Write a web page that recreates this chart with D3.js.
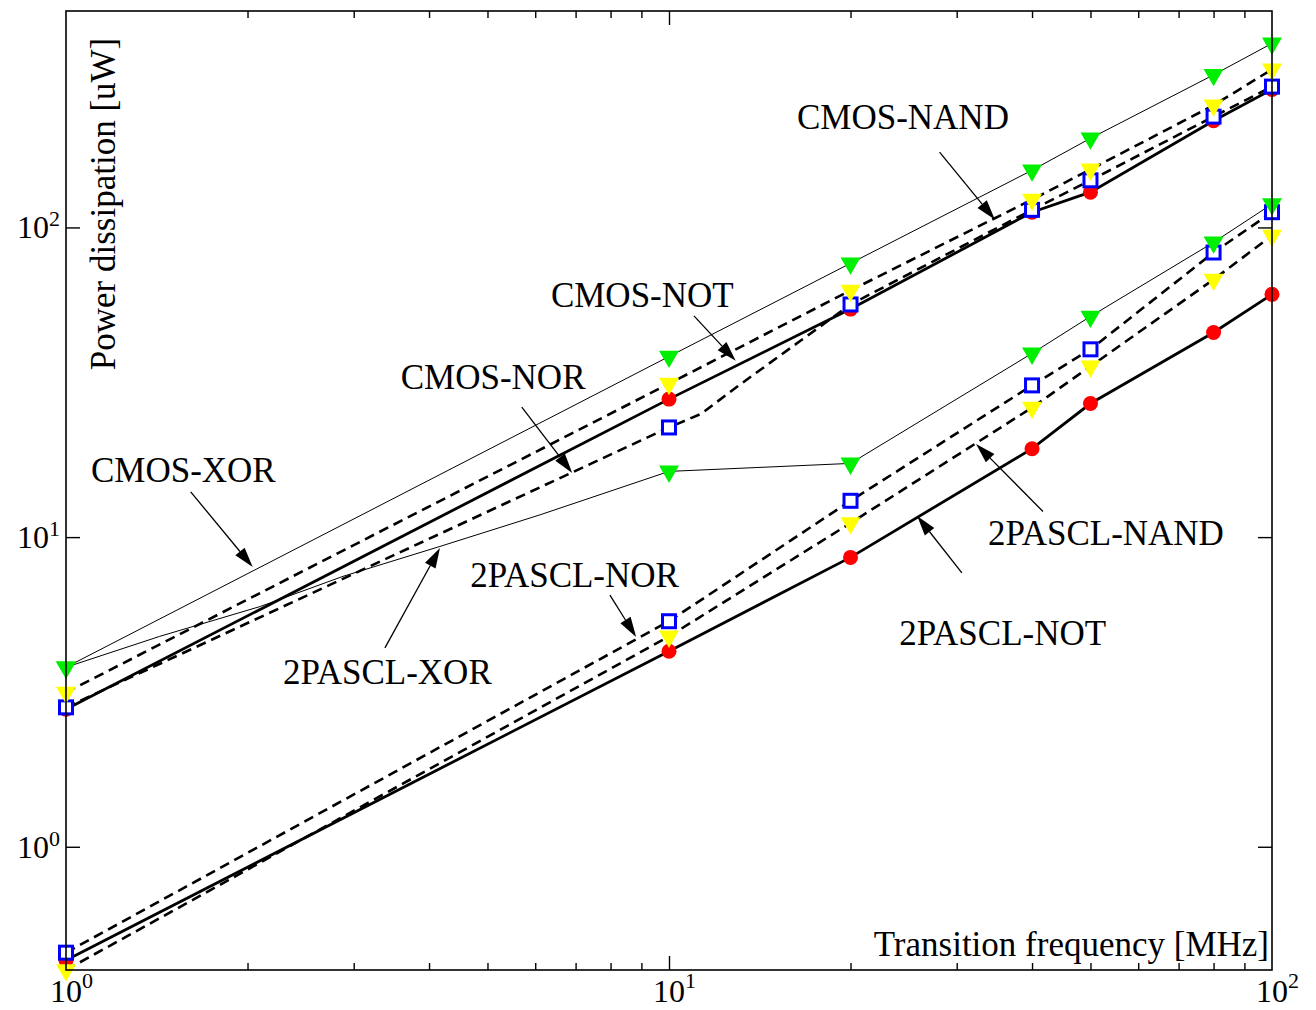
<!DOCTYPE html>
<html>
<head>
<meta charset="utf-8">
<script src="https://cdn.jsdelivr.net/npm/d3@7"></script>
<style>
body { margin: 0; background: #fff; }
text { font-family: "Liberation Serif", "Times New Roman", serif; fill: #000; }
</style>
</head>
<body>
<script>
// transition frequencies where the markers sit [MHz]
var freqs = [1, 10, 20, 40, 50, 80, 100];

// power dissipation [uW]
var cmosNot   = [2.78, 27.9, 54.5, 112, 130, 221, 279];
var cmosNand  = [2.82, 22.6, 56.4, 114, 142, 228, 285];
var cmosNor   = [3.15, 31.3, 62.6, 123, 154, 248, 324];
var cmosXor   = [3.80, 38.3, 76.6, 153, 194, 311, 393];
var pasclNot  = [0.43, 4.28, 8.6, 19.3, 27.0, 45.8, 60.8];
var pasclNand = [0.455, 5.35, 13.1, 30.9, 40.4, 83.0, 112];
var pasclNor  = [0.40, 4.78, 11.1, 26.2, 35.6, 67.9, 94.2];
var pasclXor  = [3.80, 16.3, 17.3, 39.2, 51.6, 89.5, 119];

// extra traced points where a curve bends between two markers (no marker drawn)
var pasclXorBendF = [1.43, 2.10, 2.88, 4.17, 6.11];
var pasclXorBendP = [4.78, 5.97, 7.47, 9.33, 11.8];
var cmosNandBendF = [11.3, 13.0];
var cmosNandBendP = [25.0, 30.7];

// axis ticks
var xDecades = [1, 10, 100];
var xMinor = [2, 3, 4, 5, 6, 7, 8, 9, 20, 30, 40, 50, 60, 70, 80, 90];
var yDecades = [1, 10, 100];

// annotations, in data units (frequency, power)
var labelText = ["CMOS-NAND", "CMOS-NOT", "CMOS-NOR", "CMOS-XOR",
                 "2PASCL-XOR", "2PASCL-NOR", "2PASCL-NAND", "2PASCL-NOT"];
var labelF = [16.3, 6.37, 3.59, 1.10, 2.29, 4.68, 33.8, 24.1];
var labelP = [208, 55.4, 30.1, 15.1, 3.36, 6.90, 9.43, 4.48];
var arrowFromF = [28.1, 11.0, 5.70, 1.61, 3.38, 7.98, 41.7, 30.6];
var arrowFromP = [175, 51.8, 26.3, 14.0, 4.39, 6.50, 12.1, 7.66];
var arrowToF   = [34.7, 12.9, 6.91, 2.04, 4.17, 8.82, 32.3, 25.8];
var arrowToP   = [106, 37.1, 16.1, 8.01, 9.22, 4.76, 20.0, 11.7];

function init(){

    var w = 1316;
    var h = 1010;
    var left = 66, right = 1272, top = 11, bottom = 970;

    var svg = d3.select("body")
            .append("svg")
            .attr("width", w)
            .attr("height", h);

    var x = d3.scaleLog().domain([1, 100]).range([left, right]);
    var y = d3.scaleLog().domain([0.4, 500]).range([bottom, top]);

    var series = [
        {vals: cmosNot,   kind: "not"},
        {vals: cmosNand,  kind: "nand", bendF: cmosNandBendF, bendP: cmosNandBendP},
        {vals: cmosNor,   kind: "nor"},
        {vals: cmosXor,   kind: "xor"},
        {vals: pasclNot,  kind: "not"},
        {vals: pasclNand, kind: "nand"},
        {vals: pasclNor,  kind: "nor"},
        {vals: pasclXor,  kind: "xor", bendF: pasclXorBendF, bendP: pasclXorBendP}
    ];

    var lineWidth = {not: 2.8, nand: 2.6, nor: 2.6, xor: 1};
    var dash = {not: null, nand: "10,6", nor: "10,6", xor: null};

    var line = d3.line()
        .x(function(d){ return x(d.f); })
        .y(function(d){ return y(d.p); });

    // lines first
    series.forEach(function(s){
        var pts = freqs.map(function(f, i){ return {f: f, p: s.vals[i]}; });
        if (s.bendF) {
            s.bendF.forEach(function(f, i){ pts.push({f: f, p: s.bendP[i]}); });
        }
        pts.sort(function(a, b){ return a.f - b.f; });
        svg.append("path")
            .attr("d", line(pts))
            .attr("fill", "none")
            .attr("stroke", "#000")
            .attr("stroke-width", lineWidth[s.kind])
            .attr("stroke-dasharray", dash[s.kind]);
    });

    // markers, drawn red -> blue -> yellow -> green so they stack like the figure
    var order = ["not", "nand", "nor", "xor"];
    var tri = "M-10,-5.8L10,-5.8L0,11.5Z"; // pointing down, centred on its centroid
    order.forEach(function(kind){
        series.filter(function(s){ return s.kind === kind; }).forEach(function(s){
            var g = svg.append("g");
            var pts = freqs.map(function(f, i){ return {f: f, p: s.vals[i]}; });
            if (kind === "not") {
                g.selectAll("circle").data(pts).enter().append("circle")
                    .attr("cx", function(d){ return x(d.f); })
                    .attr("cy", function(d){ return y(d.p); })
                    .attr("r", 7.5)
                    .attr("fill", "#ff0000");
            } else if (kind === "nand") {
                g.selectAll("rect").data(pts).enter().append("rect")
                    .attr("x", function(d){ return x(d.f) - 6.5; })
                    .attr("y", function(d){ return y(d.p) - 6.5; })
                    .attr("width", 13)
                    .attr("height", 13)
                    .attr("fill", "#fff")
                    .attr("stroke", "#0000ff")
                    .attr("stroke-width", 3);
            } else {
                g.selectAll("path").data(pts).enter().append("path")
                    .attr("d", tri)
                    .attr("transform", function(d){ return "translate(" + x(d.f) + "," + y(d.p) + ")"; })
                    .attr("fill", kind === "nor" ? "#ffff00" : "#00ee00");
            }
        });
    });

    // ticks, all pointing inwards
    function noDomain(g){ g.select(".domain").remove(); g.selectAll("text").remove(); }
    svg.append("g").attr("transform", "translate(0," + bottom + ")")
        .call(d3.axisBottom(x).tickValues(xMinor).tickSize(-7)).call(noDomain);
    svg.append("g").attr("transform", "translate(0," + bottom + ")")
        .call(d3.axisBottom(x).tickValues([10]).tickSize(-14)).call(noDomain);
    svg.append("g").attr("transform", "translate(0," + top + ")")
        .call(d3.axisTop(x).tickValues(xMinor).tickSize(-7)).call(noDomain);
    svg.append("g").attr("transform", "translate(0," + top + ")")
        .call(d3.axisTop(x).tickValues([10]).tickSize(-14)).call(noDomain);
    svg.append("g").attr("transform", "translate(" + left + ",0)")
        .call(d3.axisLeft(y).tickValues(yDecades).tickSize(-14)).call(noDomain);
    svg.append("g").attr("transform", "translate(" + right + ",0)")
        .call(d3.axisRight(y).tickValues(yDecades).tickSize(-14)).call(noDomain);
    svg.selectAll(".tick line").attr("stroke", "#000").attr("stroke-width", 1.4);

    // frame
    svg.append("rect")
        .attr("x", left).attr("y", top)
        .attr("width", right - left).attr("height", bottom - top)
        .attr("fill", "none").attr("stroke", "#000").attr("stroke-width", 1.6);

    // tick labels 10^n
    var xl = svg.selectAll(".xlab").data(xDecades).enter().append("text")
        .attr("class", "xlab")
        .attr("x", function(d){ return x(d) - 16; })
        .attr("y", 1002)
        .style("font-size", "32px");
    xl.append("tspan").text("10");
    xl.append("tspan").attr("dy", -14).style("font-size", "22px")
        .text(function(d){ return Math.round(Math.log10(d)); });

    var yl = svg.selectAll(".ylab").data(yDecades).enter().append("text")
        .attr("class", "ylab")
        .attr("x", 60)
        .attr("y", function(d){ return y(d) + 11; })
        .attr("text-anchor", "end")
        .style("font-size", "32px");
    yl.append("tspan").text("10");
    yl.append("tspan").attr("dy", -12).style("font-size", "22px")
        .text(function(d){ return Math.round(Math.log10(d)); });

    // axis titles sit inside the frame
    svg.append("text")
        .attr("x", 1269).attr("y", 956)
        .attr("text-anchor", "end")
        .style("font-size", "35px")
        .text("Transition frequency [MHz]");
    svg.append("text")
        .attr("transform", "translate(115,204) rotate(-90)")
        .attr("text-anchor", "middle")
        .style("font-size", "35px")
        .text("Power dissipation [uW]");

    // annotation labels
    svg.selectAll(".lab").data(labelText).enter().append("text")
        .attr("class", "lab")
        .attr("x", function(d, i){ return x(labelF[i]); })
        .attr("y", function(d, i){ return y(labelP[i]); })
        .style("font-size", "35px")
        .text(function(d){ return d; });

    // arrows with filled heads
    labelText.forEach(function(t, i){
        var x1 = x(arrowFromF[i]), y1 = y(arrowFromP[i]);
        var x2 = x(arrowToF[i]),   y2 = y(arrowToP[i]);
        var dx = x2 - x1, dy = y2 - y1, len = Math.sqrt(dx*dx + dy*dy);
        var ux = dx / len, uy = dy / len;
        var hl = 20, hw = 6;
        var bx = x2 - ux * hl, by = y2 - uy * hl;
        svg.append("line")
            .attr("x1", x1).attr("y1", y1).attr("x2", bx).attr("y2", by)
            .attr("stroke", "#000").attr("stroke-width", 1.3);
        svg.append("path")
            .attr("d", "M" + x2 + "," + y2 +
                       "L" + (bx - uy * hw) + "," + (by + ux * hw) +
                       "L" + (bx + uy * hw) + "," + (by - ux * hw) + "Z")
            .attr("fill", "#000");
    });
}
window.onload = init;
</script>
</body>
</html>
